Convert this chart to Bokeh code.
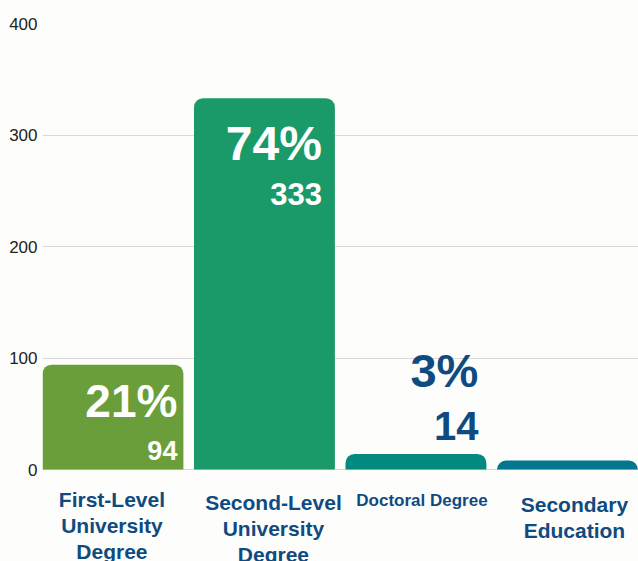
from bokeh.plotting import figure
from bokeh.models import Range1d, FixedTicker
from bokeh.core.properties import value
from bokeh.embed import file_html
from bokeh.resources import INLINE

# ---- data ----
categories = ["First-Level University Degree", "Second-Level University Degree",
              "Doctoral Degree", "Secondary Education"]
cat_lines = [["First-Level", "University", "Degree"],
             ["Second-Level", "University", "Degree"],
             ["Doctoral Degree"],
             ["Secondary", "Education"]]
counts = [94, 333, 14, 8]
pct_labels = ["21%", "74%", "3%", ""]
count_labels = ["94", "333", "14", ""]
y_ticks = [0, 100, 200, 300, 400]

# ---- styles / layout ----
bar_colors = ["#6a9e3b", "#1b9a69", "#028a80", "#03778f"]
label_blue = "#0f4b80"
bg = "#fdfdfc"
FONT = value("Liberation Sans")

pct_color = ["white", "white", label_blue, label_blue]
pct_size = ["46px", "48px", "47px", "46px"]
cnt_size = ["27px", "31px", "40px", "27px"]
pct_dy = [36, 45, -83, -83]     # baseline offset from bar top (px, down positive)
cnt_dy = [86, 96, -28, -28]
txt_dx = [-6, -13, -8, -8]      # offset from bar right edge
cat_dy = [30, 33, 31, 35]
cat_dx = [-1, 9, 6, 7]
cat_size = ["21px", "21px", "17px", "21px"]

x = [i + 0.5 for i in range(len(categories))]
bw = 0.93

p = figure(width=638, height=561, output_backend="svg", toolbar_location=None,
           x_range=Range1d(0.035, 0.035 + 596 / 151.5),
           y_range=Range1d(-82.5, 400),
           min_border_left=42, min_border_right=0, min_border_top=23, min_border_bottom=0)
p.background_fill_color = bg
p.border_fill_color = bg
p.outline_line_color = None

p.vbar(x=x, top=counts, width=bw, bottom=0, fill_color=bar_colors, line_color=None,
       border_radius=(9, 9, 0, 0))

for i in range(len(categories)):
    if pct_labels[i]:
        p.text(x=[x[i] + bw / 2], y=[counts[i]], text=[pct_labels[i]],
               x_offset=txt_dx[i], y_offset=pct_dy[i],
               text_align="right", text_baseline="alphabetic",
               text_font=FONT, text_font_style="bold",
               text_font_size=pct_size[i], text_color=pct_color[i])
        p.text(x=[x[i] + bw / 2], y=[counts[i]], text=[count_labels[i]],
               x_offset=txt_dx[i], y_offset=cnt_dy[i],
               text_align="right", text_baseline="alphabetic",
               text_font=FONT, text_font_style="bold",
               text_font_size=cnt_size[i], text_color=pct_color[i])
    for j, line in enumerate(cat_lines[i]):
        p.text(x=[x[i]], y=[0], text=[line],
               x_offset=cat_dx[i], y_offset=cat_dy[i] + j * 26,
               text_align="center", text_baseline="middle",
               text_font=FONT, text_font_style="bold",
               text_font_size=cat_size[i], text_color=label_blue)

p.xaxis.visible = False
p.xgrid.visible = False
p.ygrid.ticker = FixedTicker(ticks=y_ticks)
p.ygrid.grid_line_color = "#d8d8d8"
p.ygrid.grid_line_width = 1

ax = p.yaxis[0]
ax.ticker = FixedTicker(ticks=y_ticks)
ax.axis_line_color = None
ax.major_tick_line_color = None
ax.minor_tick_line_color = None
ax.major_tick_in = 0
ax.major_tick_out = 0
ax.major_label_standoff = 5
ax.major_label_text_font = "Liberation Sans"
ax.major_label_text_font_size = "17px"
ax.major_label_text_color = "#222222"

open("out.html", "w").write(file_html(p, INLINE))
